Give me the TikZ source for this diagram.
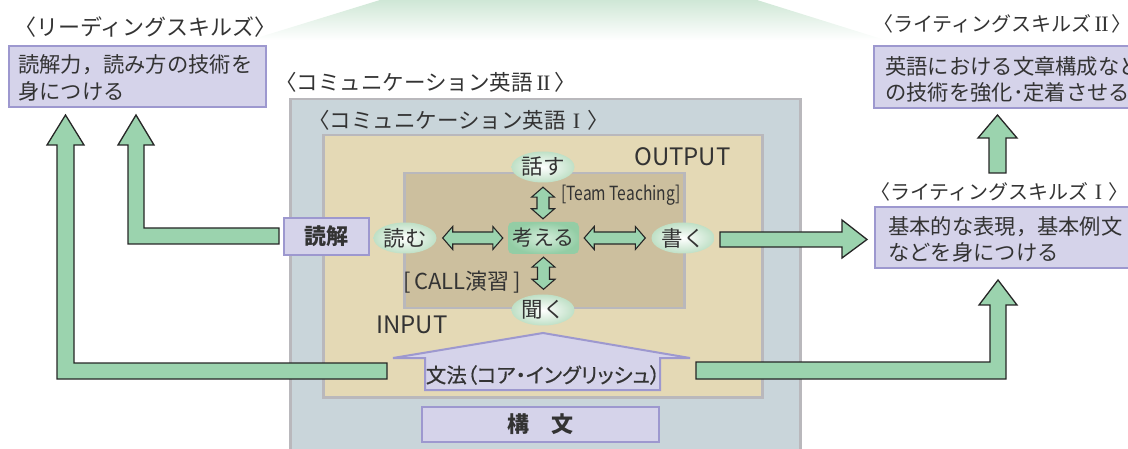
\documentclass[tikz,border=0pt]{standalone}
\usepackage{fontspec}
\usepackage{graphicx}
\setmainfont{Noto Sans CJK JP}
\newfontfamily\cjkp[RawFeature=+palt,FakeBold=0.5]{Noto Sans CJK JP}
\newfontfamily\romfont{Liberation Serif}
\newcommand\RomI{\makebox[1em]{\romfont\fontsize{22}{24}\selectfont I}}
\newcommand\RomII{\makebox[1em]{\romfont\fontsize{22}{24}\selectfont I\kern-0.03em I}}
\usetikzlibrary{shapes.geometric,calc}
\definecolor{lav}{HTML}{D5D3EA}
\definecolor{lavb}{HTML}{9D98CF}
\definecolor{grn}{HTML}{9BD3AE}
\definecolor{outerbg}{HTML}{C9D5DA}
\definecolor{tanbg}{HTML}{E4D9B5}
\definecolor{dtan}{HTML}{CCBF9E}
\definecolor{gbord}{HTML}{B9B8BC}
\definecolor{txt}{HTML}{333333}
\definecolor{fang}{HTML}{CFE7D6}
\definecolor{ellg}{HTML}{BFE0C6}
\definecolor{kang}{HTML}{93CDA5}
\definecolor{kangin}{HTML}{D6EEDC}
\newcommand\dblH[2]{\path[dbl] let \p1=#1, \p2=#2 in
  (\x1,\y1) -- (\x1+10pt,\y1+11.5pt) -- (\x1+10pt,\y1+6pt) -- (\x2-10pt,\y1+6pt) -- (\x2-10pt,\y1+11.5pt) -- (\x2,\y1)
  -- (\x2-10pt,\y1-11.5pt) -- (\x2-10pt,\y1-6pt) -- (\x1+10pt,\y1-6pt) -- (\x1+10pt,\y1-11.5pt) -- cycle;}
\newcommand\dblV[2]{\path[dbl] let \p1=#1, \p2=#2 in
  (\x1,\y1) -- (\x1+11.5pt,\y1-10pt) -- (\x1+6pt,\y1-10pt) -- (\x1+6pt,\y2+10pt) -- (\x1+11.5pt,\y2+10pt) -- (\x1,\y2)
  -- (\x1-11.5pt,\y2+10pt) -- (\x1-6pt,\y2+10pt) -- (\x1-6pt,\y1-10pt) -- (\x1-11.5pt,\y1-10pt) -- cycle;}
\begin{document}
\begin{tikzpicture}[x=1pt,y=-1pt,
  lbl/.style={anchor=west,inner sep=0,text=txt,font=\fontsize{21.5}{24}\selectfont},
  btxt/.style={anchor=west,inner sep=0,text=txt,align=left,font=\fontsize{21.3}{26}\selectfont},
  lavbox/.style={fill=lav,draw=lavb,line width=2pt,inner sep=0},
  frame/.style={draw=gbord,line width=2.5pt,inner sep=0,anchor=north west},
  blk/.style={fill=grn,draw=black!85,line width=1.3pt,line join=miter},
  dbl/.style={fill=grn,draw=black!85,line width=1.1pt,line join=miter},
  ell/.style={ellipse,minimum width=63pt,minimum height=31pt,inner sep=0,inner color=white,outer color=ellg,text=txt,font=\fontsize{21.5}{24}\selectfont},
  eng/.style={inner sep=0,text=txt,font=\fontsize{24}{26}\selectfont}]
\useasboundingbox (0,0) rectangle (1128,449);
\clip (0,0) rectangle (1128,449);
% fan
\shade[top color=fang,bottom color=white] (380,0) -- (757,0) -- (885,40) -- (250,40) -- cycle;
% frames
\node[frame,fill=outerbg,minimum width=510pt,minimum height=370pt] (comm2) at (289,98) {};
\node[frame,fill=tanbg,minimum width=439pt,minimum height=262pt] (comm1) at (322,134) {};
\node[frame,fill=dtan,minimum width=280pt,minimum height=135pt] (core) at (403,172) {};
% labels
\node[lbl,font=\fontsize{22}{24}\selectfont] (lread) at (14,27) {〈リーディングスキルズ〉};
\node[lbl] (lc2) at (275,82) {〈コミュニケーション英語\RomII〉};
\node[lbl] (lc1) at (308,120) {〈コミュニケーション英語\RomI〉};
\node[lbl,font=\fontsize{20}{24}\selectfont] (lw2) at (873,24) {〈ライティングスキルズ\RomII〉};
\node[lbl,font=\fontsize{20}{24}\selectfont] (lw1) at (870,192) {〈ライティングスキルズ\RomI〉};
% skill boxes
\node[lavbox,anchor=north west,minimum width=257pt,minimum height=61pt] (rbox) at (8,45) {};
\node[btxt] at (18,65) {読解力，読み方の技術を};
\node[btxt] at (18,91) {身につける};
\node[lavbox,anchor=north west,minimum width=270pt,minimum height=62pt] (w2box) at (873,45) {};
\node[btxt] at (885,66) {英語における文章構成など};
\node[btxt] at (885,92) {の技術を強化･定着させる};
\node[lavbox,anchor=north west,minimum width=270pt,minimum height=61pt] (w1box) at (874,206) {};
\node[btxt] at (888,227) {基本的な表現，基本例文};
\node[btxt] at (888,252) {などを身につける};
% OUTPUT / INPUT
\node[eng,anchor=west] (out) at (634,157) {OUTPUT};
\node[eng,anchor=west] (inp) at (376,325) {INPUT};
\node[inner sep=0,text=txt,anchor=west,font=\fontsize{19.5}{22}\selectfont] (tt) at (561,195) {\scalebox{0.8}[1]{[Team Teaching]}};
\node[inner sep=0,text=txt,anchor=west,font=\fontsize{22}{24}\selectfont] (call) at (403,282) {[\,CALL演習\,]};
% core nodes
\node[ell] (hanasu) at (543,167) {話す};
\node[ell] (yomu) at (405,238) {読む};
\node[ell] (kaku) at (683,238) {書く};
\node[ell] (kiku) at (543,310) {聞く};
\node[rounded corners=5pt,minimum width=71pt,minimum height=32pt,inner sep=0,inner color=kangin,outer color=kang,text=txt,font=\fontsize{21}{24}\selectfont] (kangaeru) at (543.5,238) {考える};
\dblH{($(yomu.east)+(6,0)$)}{($(kangaeru.west)+(-5,0)$)}
\dblH{($(kangaeru.east)+(5,0)$)}{($(kaku.west)+(-6,0)$)}
\dblV{($(hanasu.south)+(0,4.5)$)}{($(kangaeru.north)+(0,-3)$)}
\dblV{($(kangaeru.south)+(0,3)$)}{($(kiku.north)+(0,-5)$)}
% dokkai
\node[lavbox,minimum width=85pt,minimum height=37pt,text=txt,font=\fontsize{22}{24}\selectfont\bfseries] (dokkai) at (326.5,236.5) {読解};
% bunpo house
\path[fill=lav,draw=lavb,line width=2pt,line join=miter] (425,390) -- (425,358) -- (393,358) -- (543,333) -- (690,358) -- (660,358) -- (660,390) -- cycle;
\node[inner sep=0,text=txt,font=\fontsize{20.5}{24}\cjkp] (bunpo) at (543,375) {文法（コア・イングリッシュ）};
\node[lavbox,minimum width=237pt,minimum height=35pt,text=txt,font=\fontsize{22}{24}\selectfont\bfseries] (kobun) at (540.5,424.5) {構　文};
% block arrows
\path[blk] (387,363) -- (74,363) -- (74,145) -- (84,145) -- (65.5,115) -- (47,145) -- (57,145) -- (57,379) -- (387,379) -- cycle;
\path[blk] (279,228) -- (144,228) -- (144,145) -- (154,145) -- (136,115) -- (118,145) -- (128,145) -- (128,244) -- (279,244) -- cycle;
\path[blk] (720,232) -- (842,232) -- (842,220) -- (867,239.5) -- (842,258) -- (842,247) -- (720,247) -- cycle;
\path[blk] (696,362) -- (990,362) -- (990,305) -- (979,305) -- (998,280) -- (1017,305) -- (1006,305) -- (1006,379) -- (696,379) -- cycle;
\path[blk] (989,173) -- (989,138) -- (978,138) -- (997.5,115) -- (1017,138) -- (1006,138) -- (1006,173) -- cycle;
\end{tikzpicture}
\end{document}
